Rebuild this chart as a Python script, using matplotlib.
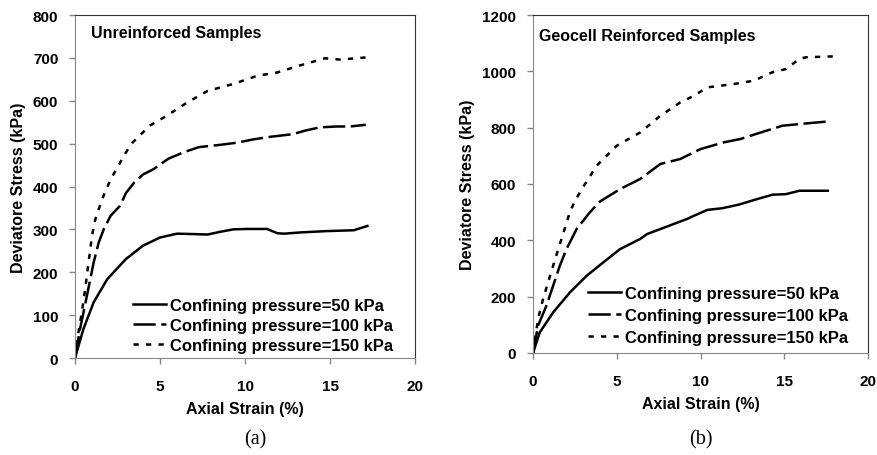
import matplotlib
matplotlib.use("Agg")
import matplotlib.pyplot as plt

plt.rcParams['font.family'] = ['Liberation Sans', 'DejaVu Sans']
plt.rcParams['font.weight'] = 'bold'
plt.rcParams['lines.scale_dashes'] = False

# Triaxial test results: axial strain (%) vs deviator stress (kPa)
labels = ["Confining pressure=50 kPa",
          "Confining pressure=100 kPa",
          "Confining pressure=150 kPa"]

# (a) unreinforced samples
a50_x = [0, 0.5, 1.1, 1.9, 3.0, 4.0, 5.0, 6.0, 7.0, 7.8, 8.5, 9.3, 10.1, 11.3, 11.9, 12.3, 13.3, 14.8, 16.4, 17.2]
a50_y = [0, 68, 130, 184, 231, 262, 281, 290, 289, 288, 294, 300, 301, 301, 291, 290, 293, 296, 298, 308]

a100_x = [0, 0.3, 0.7, 1.1, 1.4, 1.7, 2.1, 2.65, 3.0, 3.5, 4.0, 4.6, 5.5, 6.4, 7.3, 8.5, 9.5, 10.5, 11.5, 12.8, 13.5, 14.4, 15.4, 16.2, 17.1]
a100_y = [0, 68, 145, 223, 270, 301, 332, 355, 385, 410, 428, 440, 465, 480, 492, 497, 502, 510, 516, 522, 530, 538, 540, 540, 544]

a150_x = [0, 0.1, 0.4, 0.6, 0.8, 1.0, 1.2, 1.6, 2.1, 2.5, 3.0, 3.4, 4.4, 5.4, 6.6, 7.8, 9.3, 10.7, 11.9, 13.2, 14.7, 15.6, 17.1]
a150_y = [0, 36, 106, 161, 223, 285, 324, 371, 417, 445, 480, 503, 542, 565, 596, 623, 639, 658, 666, 682, 699, 696, 701]

# (b) geocell reinforced samples
b50_x = [0, 0.4, 1.2, 2.2, 3.2, 4.2, 5.2, 6.4, 6.8, 8.4, 9.2, 9.6, 10.4, 11.3, 12.3, 13.3, 14.3, 15.1, 15.9, 17.6]
b50_y = [0, 73, 144, 215, 274, 322, 369, 405, 422, 458, 476, 487, 508, 514, 527, 545, 562, 564, 576, 576]

b100_x = [0, 0.3, 0.8, 1.2, 1.6, 2.0, 2.6, 3.4, 4.0, 5.2, 6.4, 7.6, 8.8, 10.0, 11.4, 12.4, 13.6, 14.9, 16.3, 17.6]
b100_y = [0, 97, 168, 239, 310, 369, 440, 500, 538, 582, 618, 671, 689, 724, 748, 760, 783, 807, 815, 822]

b150_x = [0, 0.3, 0.6, 1.2, 1.7, 2.2, 2.5, 3.0, 3.8, 5.0, 6.4, 7.6, 8.8, 9.6, 10.4, 12.0, 13.2, 14.3, 15.1, 15.9, 16.3, 17.9]
b150_y = [0, 121, 192, 310, 405, 500, 540, 590, 665, 736, 783, 842, 890, 913, 943, 955, 967, 997, 1008, 1044, 1050, 1053]

x_ticks = [0, 5, 10, 15, 20]
a_yticks = [0, 100, 200, 300, 400, 500, 600, 700, 800]
b_yticks = [0, 200, 400, 600, 800, 1000, 1200]

styles = [dict(linestyle='-'),
          dict(dashes=(16, 4)),
          dict(dashes=(3.8, 5.2))]

fig = plt.figure(figsize=(8.78, 4.56), dpi=100)
ax_a = fig.add_axes([0.0854, 0.2127, 0.3873, 0.7522])
ax_b = fig.add_axes([0.6071, 0.2237, 0.3815, 0.7412])


def setup(ax, yticks, title, title_xy, legend_anchor, spacing, caption, cap_x):
    ax.set_xlim(0, 20)
    ax.set_ylim(yticks[0], yticks[-1])
    ax.set_xticks(x_ticks)
    ax.set_yticks(yticks)
    ax.tick_params(direction='out', length=4, width=1, color='#888888',
                   labelsize=11)
    ax.tick_params(axis='x', pad=11)
    ax.tick_params(axis='y', pad=8)
    for s in ('left', 'bottom'):
        ax.spines[s].set_color('#888888')
    for s in ('top', 'right'):
        ax.spines[s].set_color('#333333')
    ax.set_xlabel("Axial Strain (%)", fontsize=11.5, fontweight='bold', labelpad=6)
    ax.set_ylabel("Deviatore Stress (kPa)", fontsize=11.5, fontweight='bold', labelpad=5)
    ax.text(title_xy[0], title_xy[1], title, transform=ax.transAxes,
            fontsize=11.5, fontweight='bold', va='center', ha='left')
    ax.legend(loc='lower right', bbox_to_anchor=legend_anchor,
              frameon=False, fontsize=12, handlelength=2.0,
              handletextpad=0.2, labelspacing=spacing, borderpad=0,
              borderaxespad=0)
    fig.text(cap_x, 0.035, caption, fontsize=14.5, family='Liberation Serif',
             fontweight='normal', ha='center', va='center')


for x, y, lab, st in zip([a50_x, a100_x, a150_x], [a50_y, a100_y, a150_y], labels, styles):
    ax_a.plot(x, y, color='black', linewidth=1.8, label=lab, **st)
for x, y, lab, st in zip([b50_x, b100_x, b150_x], [b50_y, b100_y, b150_y], labels, styles):
    ax_b.plot(x, y, color='black', linewidth=1.8, label=lab, **st)

setup(ax_a, a_yticks, "Unreinforced Samples", (0.046, 0.95), (0.935, 0.015), 0.3,
      "(a)", 255 / 878)
setup(ax_b, b_yticks, "Geocell Reinforced Samples", (0.019, 0.94), (0.94, 0.025), 0.42,
      "(b)", 701 / 878)

fig.savefig("out.png", dpi=100)
